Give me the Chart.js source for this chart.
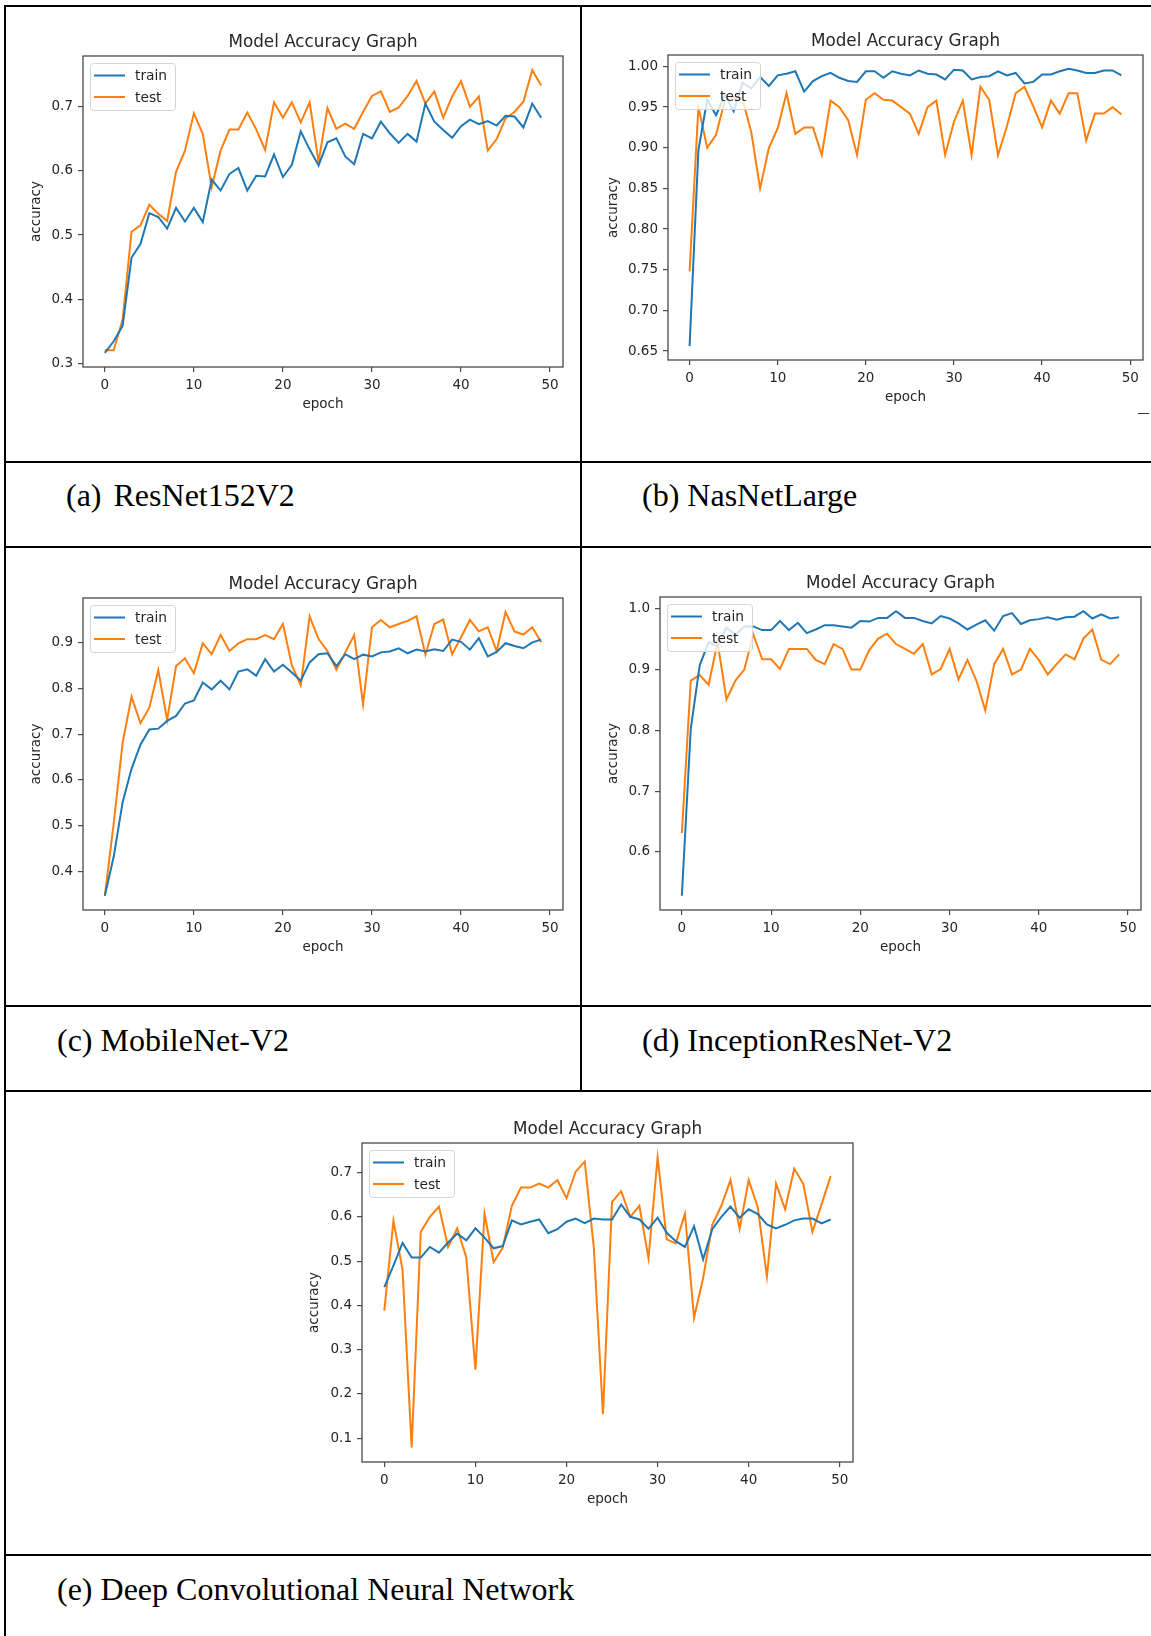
<!DOCTYPE html>
<html>
<head>
<meta charset="utf-8">
<title>Model Accuracy Graphs</title>
<script src="https://cdn.jsdelivr.net/npm/chart.js@4.4.0/dist/chart.umd.min.js"></script>
<style>
  html, body { margin: 0; padding: 0; background: #fff; }
  #page { position: relative; width: 1151px; height: 1636px; overflow: hidden; background: #fff; }
  .rule { position: absolute; background: #000; }
  .cap { position: absolute; font-family: 'Liberation Serif', 'Times New Roman', serif; font-size: 32px; line-height: 40px; color: #000; white-space: pre; }
  .panel { position: absolute; }
  .panel canvas { display: block; filter: blur(0.4px); }
</style>
</head>
<body>
<div id="page">
  <!-- table rules -->
  <div class="rule" style="left:4px;top:5px;width:1147px;height:2px"></div>
  <div class="rule" style="left:4px;top:5px;width:2px;height:1631px"></div>
  <div class="rule" style="left:580px;top:5px;width:2px;height:1087px"></div>
  <div class="rule" style="left:4px;top:461px;width:1147px;height:2px"></div>
  <div class="rule" style="left:4px;top:546px;width:1147px;height:2px"></div>
  <div class="rule" style="left:4px;top:1005px;width:1147px;height:2px"></div>
  <div class="rule" style="left:4px;top:1090px;width:1147px;height:2px"></div>
  <div class="rule" style="left:4px;top:1554px;width:1147px;height:2px"></div>
  <div class="rule" style="left:1138px;top:413px;width:11px;height:1px;background:#333"></div>

  <!-- captions -->
  <div class="cap" style="left:66px;top:475px">(a)<span style="margin-left:12px">ResNet152V2</span></div>
  <div class="cap" style="left:642px;top:475px">(b) NasNetLarge</div>
  <div class="cap" style="left:57px;top:1020px">(c) MobileNet-V2</div>
  <div class="cap" style="left:642px;top:1020px">(d) InceptionResNet-V2</div>
  <div class="cap" style="left:57px;top:1569px">(e) Deep Convolutional Neural Network</div>
</div>
<script>
'use strict';
// epochs shared by every run
var epochs = Array.from({ length: 50 }, function (_, i) { return i; });
var epochTicks = [0, 10, 20, 30, 40, 50];
var epochTickLabels = ['0', '10', '20', '30', '40', '50'];

// (a) ResNet152V2
var resnetTrain = [0.317, 0.335, 0.359, 0.465, 0.486, 0.534, 0.528, 0.510, 0.542, 0.521,
  0.542, 0.520, 0.586, 0.569, 0.595, 0.604, 0.569, 0.592, 0.591, 0.625,
  0.590, 0.609, 0.661, 0.633, 0.608, 0.644, 0.650, 0.622, 0.610, 0.657,
  0.650, 0.676, 0.658, 0.643, 0.657, 0.645, 0.704, 0.676, 0.663, 0.651,
  0.669, 0.679, 0.672, 0.677, 0.670, 0.685, 0.684, 0.667, 0.704, 0.682];
var resnetTest = [0.321, 0.321, 0.369, 0.505, 0.515, 0.547, 0.533, 0.522, 0.598, 0.631,
  0.689, 0.657, 0.574, 0.631, 0.664, 0.664, 0.690, 0.664, 0.632, 0.706,
  0.682, 0.706, 0.675, 0.706, 0.613, 0.697, 0.665, 0.673, 0.665, 0.691,
  0.716, 0.723, 0.691, 0.698, 0.716, 0.739, 0.704, 0.723, 0.682, 0.715,
  0.739, 0.699, 0.715, 0.631, 0.649, 0.681, 0.691, 0.707, 0.756, 0.732];
var resnetTicks = [0.3, 0.4, 0.5, 0.6, 0.7];
var resnetTickLabels = ['0.3', '0.4', '0.5', '0.6', '0.7'];

// (b) NasNetLarge
var nasnetTrain = [0.656, 0.897, 0.959, 0.940, 0.965, 0.945, 0.980, 0.973, 0.987, 0.976,
  0.989, 0.991, 0.994, 0.969, 0.982, 0.988, 0.992, 0.986, 0.982, 0.981,
  0.994, 0.994, 0.986, 0.994, 0.991, 0.989, 0.995, 0.991, 0.990, 0.984,
  0.996, 0.995, 0.984, 0.987, 0.988, 0.994, 0.989, 0.992, 0.979, 0.981,
  0.990, 0.990, 0.994, 0.997, 0.995, 0.992, 0.992, 0.995, 0.995, 0.989];
var nasnetTest = [0.748, 0.950, 0.900, 0.916, 0.958, 0.962, 0.960, 0.919, 0.850, 0.900,
  0.924, 0.967, 0.917, 0.925, 0.925, 0.891, 0.958, 0.950, 0.934, 0.891,
  0.959, 0.967, 0.959, 0.958, 0.950, 0.942, 0.917, 0.950, 0.958, 0.891,
  0.932, 0.958, 0.891, 0.975, 0.959, 0.891, 0.926, 0.967, 0.975, 0.951,
  0.925, 0.958, 0.942, 0.967, 0.967, 0.909, 0.942, 0.942, 0.950, 0.941];
var nasnetTicks = [0.65, 0.70, 0.75, 0.80, 0.85, 0.90, 0.95, 1.00];
var nasnetTickLabels = ['0.65', '0.70', '0.75', '0.80', '0.85', '0.90', '0.95', '1.00'];

// (c) MobileNet-V2
var mobilenetTrain = [0.346, 0.432, 0.551, 0.624, 0.677, 0.710, 0.712, 0.729, 0.740, 0.767,
  0.774, 0.813, 0.798, 0.817, 0.798, 0.837, 0.842, 0.828, 0.864, 0.837,
  0.852, 0.835, 0.817, 0.857, 0.875, 0.877, 0.849, 0.875, 0.864, 0.874,
  0.870, 0.879, 0.881, 0.888, 0.877, 0.885, 0.881, 0.886, 0.882, 0.907,
  0.902, 0.885, 0.910, 0.870, 0.880, 0.899, 0.893, 0.888, 0.901, 0.907];
var mobilenetTest = [0.346, 0.505, 0.681, 0.782, 0.724, 0.758, 0.840, 0.731, 0.849, 0.866,
  0.833, 0.899, 0.875, 0.917, 0.882, 0.899, 0.908, 0.908, 0.917, 0.908,
  0.941, 0.851, 0.807, 0.958, 0.908, 0.882, 0.841, 0.879, 0.917, 0.765,
  0.934, 0.950, 0.934, 0.941, 0.948, 0.958, 0.874, 0.941, 0.951, 0.875,
  0.912, 0.950, 0.925, 0.934, 0.882, 0.967, 0.925, 0.918, 0.934, 0.901];
var mobilenetTicks = [0.4, 0.5, 0.6, 0.7, 0.8, 0.9];
var mobilenetTickLabels = ['0.4', '0.5', '0.6', '0.7', '0.8', '0.9'];

// (d) InceptionResNet-V2
var inceptionTrain = [0.528, 0.803, 0.907, 0.945, 0.938, 0.969, 0.957, 0.971, 0.971, 0.965,
  0.965, 0.980, 0.965, 0.977, 0.960, 0.966, 0.973, 0.973, 0.971, 0.969,
  0.980, 0.979, 0.985, 0.985, 0.996, 0.985, 0.985, 0.980, 0.976, 0.988,
  0.984, 0.976, 0.966, 0.974, 0.981, 0.964, 0.988, 0.993, 0.975, 0.981,
  0.983, 0.986, 0.982, 0.986, 0.987, 0.996, 0.984, 0.991, 0.984, 0.986];
var inceptionTest = [0.631, 0.882, 0.891, 0.875, 0.945, 0.851, 0.882, 0.900, 0.958, 0.917,
  0.917, 0.901, 0.934, 0.934, 0.934, 0.916, 0.909, 0.942, 0.934, 0.900,
  0.900, 0.932, 0.951, 0.959, 0.942, 0.934, 0.926, 0.942, 0.892, 0.901,
  0.934, 0.884, 0.916, 0.882, 0.833, 0.909, 0.934, 0.892, 0.900, 0.934,
  0.916, 0.892, 0.909, 0.925, 0.917, 0.951, 0.966, 0.916, 0.909, 0.925];
var inceptionTicks = [0.6, 0.7, 0.8, 0.9, 1.0];
var inceptionTickLabels = ['0.6', '0.7', '0.8', '0.9', '1.0'];

// (e) Deep Convolutional Neural Network
var deepTrain = [0.441, 0.490, 0.541, 0.508, 0.508, 0.532, 0.519, 0.542, 0.562, 0.547,
  0.574, 0.553, 0.529, 0.534, 0.592, 0.583, 0.589, 0.594, 0.563, 0.572,
  0.589, 0.596, 0.586, 0.596, 0.594, 0.594, 0.628, 0.600, 0.594, 0.573,
  0.598, 0.564, 0.545, 0.532, 0.579, 0.504, 0.572, 0.600, 0.623, 0.598,
  0.617, 0.606, 0.583, 0.574, 0.582, 0.592, 0.596, 0.596, 0.585, 0.594];
var deepTest = [0.388, 0.591, 0.481, 0.079, 0.566, 0.600, 0.623, 0.532, 0.574, 0.508,
  0.255, 0.607, 0.498, 0.530, 0.625, 0.666, 0.666, 0.675, 0.666, 0.683,
  0.642, 0.702, 0.725, 0.530, 0.154, 0.634, 0.658, 0.600, 0.625, 0.506,
  0.734, 0.549, 0.540, 0.607, 0.372, 0.462, 0.582, 0.625, 0.683, 0.573,
  0.683, 0.621, 0.465, 0.675, 0.617, 0.709, 0.674, 0.566, 0.628, 0.692];
var deepTicks = [0.1, 0.2, 0.3, 0.4, 0.5, 0.6, 0.7];
var deepTickLabels = ['0.1', '0.2', '0.3', '0.4', '0.5', '0.6', '0.7'];

// look of the plots
var font = 'DejaVu Sans';
var ink = '#262626';
var spine = '#4a4a4a';
var blue = '#1f77b4';
var orange = '#ff7f0e';

// where each axes box sits on the page
var panels = [
  { left: 83, top: 56, right: 562.5, bottom: 366.5, yGap: 46.5, train: resnetTrain, test: resnetTest, ticks: resnetTicks, labels: resnetTickLabels },
  { left: 667.5, top: 55.3, right: 1142.5, bottom: 360.7, yGap: 55, train: nasnetTrain, test: nasnetTest, ticks: nasnetTicks, labels: nasnetTickLabels },
  { left: 83, top: 597.7, right: 562.5, bottom: 910, yGap: 46.5, train: mobilenetTrain, test: mobilenetTest, ticks: mobilenetTicks, labels: mobilenetTickLabels },
  { left: 660, top: 597.3, right: 1140.5, bottom: 910, yGap: 47, train: inceptionTrain, test: inceptionTest, ticks: inceptionTicks, labels: inceptionTickLabels },
  { left: 362.3, top: 1142.7, right: 853.3, bottom: 1461.7, yGap: 47.5, train: deepTrain, test: deepTest, ticks: deepTicks, labels: deepTickLabels }
];

// box around the axes, drawn over the lines like matplotlib spines
var framePlugin = {
  id: 'frame',
  afterDatasetsDraw: function (chart) {
    var a = chart.chartArea;
    var ctx = chart.ctx;
    ctx.save();
    ctx.strokeStyle = spine;
    ctx.lineWidth = 1.3;
    ctx.strokeRect(a.left, a.top, a.right - a.left, a.bottom - a.top);
    ctx.restore();
  }
};

// legend in the upper left corner of the axes
var boxLegend = {
  id: 'boxLegend',
  afterDatasetsDraw: function (chart) {
    var a = chart.chartArea;
    var ctx = chart.ctx;
    var x = a.left + 7;
    var y = a.top + 7;
    ctx.save();
    ctx.beginPath();
    if (ctx.roundRect) ctx.roundRect(x + 0.5, y + 0.5, 85, 47, 3);
    else ctx.rect(x + 0.5, y + 0.5, 85, 47);
    ctx.fillStyle = 'rgba(255,255,255,0.8)';
    ctx.fill();
    ctx.strokeStyle = '#d4d4d4';
    ctx.lineWidth = 1;
    ctx.stroke();
    chart.data.datasets.forEach(function (ds, i) {
      var ly = y + 12.5 + i * 21.5;
      ctx.beginPath();
      ctx.moveTo(x + 4, ly);
      ctx.lineTo(x + 35, ly);
      ctx.strokeStyle = ds.borderColor;
      ctx.lineWidth = 2;
      ctx.stroke();
      ctx.fillStyle = ink;
      ctx.font = '13.8px "' + font + '"';
      ctx.textBaseline = 'middle';
      ctx.textAlign = 'left';
      ctx.fillText(ds.label, x + 45, ly + 1);
    });
    ctx.restore();
  }
};

function toPoints(values) {
  return values.map(function (v, i) { return { x: epochs[i], y: v }; });
}

// matplotlib style autoscale: 5% margin each side
function paddedRange(a, b) {
  var all = a.concat(b);
  var lo = Math.min.apply(null, all);
  var hi = Math.max.apply(null, all);
  var m = (hi - lo) * 0.05;
  return [lo - m, hi + m];
}

function drawPanel(p) {
  var w = Math.round(p.right - p.left) + 100;
  var h = Math.round(p.bottom - p.top) + 105;
  var box = document.createElement('div');
  box.className = 'panel';
  box.style.left = (Math.round(p.left) - 80) + 'px';
  box.style.top = (Math.round(p.top) - 50) + 'px';
  var cv = document.createElement('canvas');
  cv.width = w;
  cv.height = h;
  cv.style.width = w + 'px';
  cv.style.height = h + 'px';
  box.appendChild(cv);
  document.getElementById('page').appendChild(box);

  var range = paddedRange(p.train, p.test);
  var tickFont = { family: font, size: 13.5 };

  new Chart(cv, {
    type: 'line',
    data: {
      datasets: [
        { label: 'train', data: toPoints(p.train), borderColor: blue, borderWidth: 2, pointRadius: 0, fill: false, tension: 0 },
        { label: 'test', data: toPoints(p.test), borderColor: orange, borderWidth: 2, pointRadius: 0, fill: false, tension: 0 }
      ]
    },
    options: {
      responsive: false,
      animation: false,
      devicePixelRatio: 1,
      events: [],
      layout: { padding: { left: 0, right: 20, top: 0, bottom: 0 } },
      plugins: {
        legend: { display: false },
        tooltip: { enabled: false },
        title: {
          display: true,
          text: 'Model Accuracy Graph',
          fullSize: false,
          color: ink,
          font: { family: font, size: 16.8, weight: 'normal', lineHeight: 1.2 },
          padding: { top: 26.2, bottom: 3.64 }
        }
      },
      scales: {
        x: {
          type: 'linear',
          bounds: 'data',
          min: -2.45,
          max: 51.45,
          afterBuildTicks: function (axis) {
            axis.ticks = epochTicks.map(function (v) { return { value: v }; });
          },
          afterFit: function (s) { s.height = 55; },
          ticks: {
            color: ink, font: tickFont, padding: 5, maxRotation: 0, autoSkip: false,
            callback: function (v, i) { return epochTickLabels[i]; }
          },
          grid: { drawOnChartArea: false, drawTicks: true, tickLength: 5, color: spine, lineWidth: 1.2 },
          border: { display: false },
          title: { display: true, text: 'epoch', color: ink, font: tickFont, padding: { top: 0, bottom: 9.9 } }
        },
        y: {
          type: 'linear',
          bounds: 'data',
          min: range[0],
          max: range[1],
          afterBuildTicks: function (axis) {
            axis.ticks = p.ticks.map(function (v) { return { value: v }; });
          },
          afterFit: function (s) { s.width = 80; },
          ticks: {
            color: ink, font: tickFont, padding: 5, autoSkip: false,
            callback: function (v, i) { return p.labels[i]; }
          },
          grid: { drawOnChartArea: false, drawTicks: true, tickLength: 5, color: spine, lineWidth: 1.2 },
          border: { display: false },
          title: { display: true, text: 'accuracy', color: ink, font: tickFont, padding: { top: 80 - p.yGap - 8.1, bottom: 0 } }
        }
      }
    },
    plugins: [framePlugin, boxLegend]
  });
}

panels.forEach(drawPanel);
</script>
</body>
</html>
